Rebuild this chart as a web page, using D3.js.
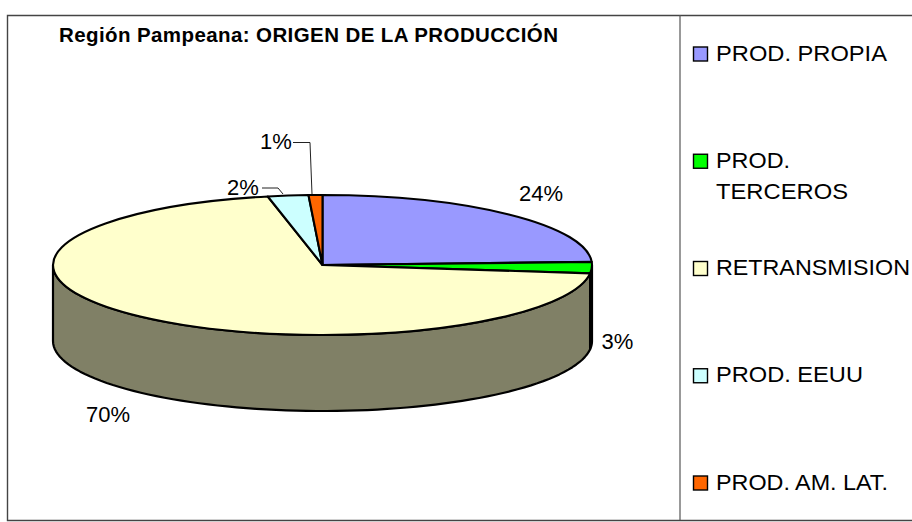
<!DOCTYPE html>
<html><head><meta charset="utf-8">
<script src="https://cdn.jsdelivr.net/npm/d3@7"></script>
<style>html,body{margin:0;background:#fff}svg{display:block}text{font-family:"Liberation Sans",Arial,sans-serif;fill:#000}</style>
</head><body><svg id="c" width="912" height="522"></svg>
<script>
const categories=["PROD. PROPIA","PROD. TERCEROS","RETRANSMISION","PROD. EEUU","PROD. AM. LAT."];
const values=[24.3,2.6,69.85,2.42,0.83];
const topColors=["#9999ff","#00ff00","#ffffcc","#ccffff","#ff6600"];
const sideColors=["#4d4d80","#008000","#808066","#668080","#803300"];
const legendLines=[["PROD. PROPIA"],["PROD.","TERCEROS"],["RETRANSMISION"],["PROD. EEUU"],["PROD. AM. LAT."]];
const legendWidths=[[171],[74,132],[194],[147],[172]];
const labelPos=[[541,201],[617.5,348.5],[108,422],[243,195],[276,149]];
const leaders={3:[[262,188],[278,188],[283,194]],4:[[293,142.5],[310,142.5],[312,194]]};

const W=912,H=522,cx=322.5,cy=265,rx=269.5,ry=70,depth=76;
const svg=d3.select("#c");
svg.append("path").attr("d",`M912 15.5H7.5V520.5H912`).attr("fill","none").attr("stroke","#444").attr("stroke-width",1.4);
svg.append("line").attr("x1",680).attr("x2",680).attr("y1",15).attr("y2",520).attr("stroke","#555").attr("stroke-width",1.2);
svg.append("text").attr("x",59).attr("y",42).attr("font-size",20.5).attr("font-weight","bold")
  .attr("textLength",499).attr("lengthAdjust","spacing").text("Región Pampeana: ORIGEN DE LA PRODUCCIÓN");

const pie=d3.pie().sort(null)(values);
const px=a=>cx+rx*Math.sin(a), py=a=>cy-ry*Math.cos(a);
const g=svg.append("g");
pie.forEach((s,i)=>{
  const a0=Math.max(s.startAngle,Math.PI/2),a1=Math.min(s.endAngle,3*Math.PI/2);
  if(a1<=a0) return;
  const n=80,as=d3.range(n+1).map(k=>a0+(a1-a0)*k/n);
  const pts=as.map(a=>[px(a),py(a)]).concat(as.slice().reverse().map(a=>[px(a),py(a)+depth]));
  g.append("path").attr("d",d3.line()(pts)+"Z").attr("fill",sideColors[i]).attr("stroke","#000").attr("stroke-width",2.2).attr("stroke-linejoin","round");
});
const arc=d3.arc().innerRadius(0).outerRadius(1);
g.selectAll("path.top").data(pie).enter().append("path").attr("class","top")
 .attr("d",arc).attr("transform",`translate(${cx},${cy}) scale(${rx},${ry})`)
 .attr("fill",(d,i)=>topColors[i]).attr("stroke","#000").attr("stroke-width",2.1)
 .attr("vector-effect","non-scaling-stroke").attr("stroke-linejoin","round");
Object.values(leaders).forEach(p=>svg.append("path").attr("d",d3.line()(p)).attr("fill","none").attr("stroke","#222").attr("stroke-width",1));
const pct=d3.format(".0f");
svg.selectAll("text.lab").data(values).enter().append("text").attr("class","lab")
 .attr("x",(d,i)=>labelPos[i][0]).attr("y",(d,i)=>labelPos[i][1]).attr("text-anchor","middle").attr("font-size",22).text(d=>pct(d)+"%");
const legY=d3.scalePoint().domain(categories).range([54,483]);
categories.forEach((c,i)=>{
  const y=legY(c);
  svg.append("rect").attr("x",693.5).attr("y",y-7).attr("width",14).attr("height",14).attr("fill",topColors[i]).attr("stroke","#000").attr("stroke-width",1.4);
  legendLines[i].forEach((t,k)=>svg.append("text").attr("x",716).attr("y",y+6.5+k*31).attr("font-size",22.5)
    .attr("textLength",legendWidths[i][k]).attr("lengthAdjust","spacingAndGlyphs").text(t));
});
</script></body></html>
